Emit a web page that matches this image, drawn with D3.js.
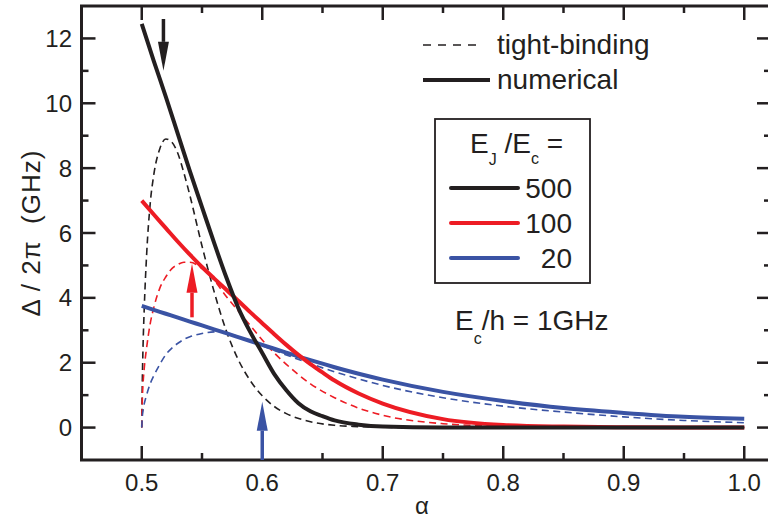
<!DOCTYPE html>
<html>
<head>
<meta charset="utf-8">
<script src="https://cdn.jsdelivr.net/npm/d3@7"></script>
<style>
  body { margin: 0; background: #fff; }
  svg { font-family: "Liberation Sans", Arial, sans-serif; }
</style>
</head>
<body>
<div id="chart"></div>
<script>
// numerical results, sampled on numAlpha
var numAlpha = [0.50,0.51,0.52,0.53,0.54,0.55,0.56,0.57,0.58,0.59,0.60,0.61,0.62,0.63,0.64,0.65,0.66,0.68,0.70,0.75,0.80,0.85,0.90,0.95,1.00];
var num500 = [12.45,11.3,10.2,9.05,7.9,6.8,5.7,4.65,3.7,2.95,2.3,1.65,1.15,0.75,0.5,0.35,0.22,0.09,0.03,0,0,0,0,0,0];
var num100 = [7.0,6.57,6.15,5.73,5.33,4.95,4.6,4.26,3.91,3.56,3.22,2.88,2.55,2.24,1.96,1.7,1.45,1.05,0.74,0.26,0.08,0.03,0.01,0,0];
var num20  = [3.75,3.63,3.51,3.39,3.27,3.15,3.03,2.91,2.79,2.67,2.55,2.43,2.31,2.19,2.08,1.97,1.86,1.66,1.48,1.1,0.82,0.6,0.45,0.33,0.27];

// tight-binding results, sampled on tbAlpha (denser near 0.5)
var tbAlpha = [0.5,0.5005,0.501,0.502,0.504,0.507,0.51,0.515,0.52,0.525,0.53,0.535,0.54,0.55,0.56,0.57,0.58,0.59,0.60,0.61,0.62,0.64,0.66,0.68,0.70,0.75,0.80,0.85,0.90,0.95,1.0];
var tb500 = [0,1.5,2.4,3.6,5.3,6.9,7.8,8.6,8.9,8.8,8.45,7.85,7.15,5.6,4.2,3.0,2.1,1.45,0.98,0.65,0.43,0.18,0.07,0.03,0.01,0,0,0,0,0,0];
var tb100 = [0,0.9,1.3,1.8,2.45,3.2,3.7,4.3,4.65,4.9,5.03,5.1,5.1,4.9,4.55,4.05,3.6,3.15,2.7,2.3,1.95,1.35,0.92,0.6,0.38,0.12,0.04,0.01,0,0,0];
var tb20  = [0,0.35,0.5,0.72,1.0,1.35,1.6,1.95,2.25,2.45,2.6,2.72,2.8,2.9,2.95,2.92,2.8,2.66,2.52,2.38,2.24,1.97,1.72,1.5,1.3,0.92,0.66,0.48,0.33,0.22,0.15];

var ratioLabels = ["500", "100", "20"];
var colors = ["#231f20", "#ed1c24", "#3a53a4"];

var xMajor = [0.5,0.6,0.7,0.8,0.9,1.0];
var xMinor = [0.55,0.65,0.75,0.85,0.95];
var yMajor = [0,2,4,6,8,10,12];
var yMinor = [1,3,5,7,9,11];

// arrows: alpha position, start value, tip value
var arrows = [
  {a: 0.518, from: 12.6, to: 11.0, c: 0},
  {a: 0.5417, from: 3.4, to: 5.05, c: 1},
  {a: 0.6, from: -1.0, to: 0.8, c: 2}
];

var W = 768, H = 521;
var svg = d3.select("#chart").append("svg")
    .attr("width", W)
    .attr("height", H);

var x = d3.scaleLinear().domain([0.45, 1.0222]).range([81.5, 771]);
var y = d3.scaleLinear().domain([-1, 13]).range([460, 6]);

var ink = "#231f20";

// frame
svg.append("rect")
    .attr("x", x(0.45)).attr("y", y(13))
    .attr("width", x(1.0222) - x(0.45))
    .attr("height", y(-1) - y(13))
    .attr("fill", "none").attr("stroke", ink).attr("stroke-width", 3);

// ticks (inward, on all four sides)
function xticks(vals, len) {
    vals.forEach(function(v) {
	svg.append("line").attr("x1", x(v)).attr("x2", x(v))
	    .attr("y1", y(-1)).attr("y2", y(-1) - len)
	    .attr("stroke", ink).attr("stroke-width", 2.5);
	svg.append("line").attr("x1", x(v)).attr("x2", x(v))
	    .attr("y1", y(13)).attr("y2", y(13) + len)
	    .attr("stroke", ink).attr("stroke-width", 2.5);
    });
}
function yticks(vals, len) {
    vals.forEach(function(v) {
	svg.append("line").attr("y1", y(v)).attr("y2", y(v))
	    .attr("x1", x(0.45)).attr("x2", x(0.45) + len)
	    .attr("stroke", ink).attr("stroke-width", 2.5);
	svg.append("line").attr("y1", y(v)).attr("y2", y(v))
	    .attr("x1", x(1.0222)).attr("x2", x(1.0222) - len)
	    .attr("stroke", ink).attr("stroke-width", 2.5);
    });
}
xticks(xMajor, 14); xticks(xMinor, 7);
yticks(yMajor, 14); yticks(yMinor, 7);

svg.selectAll("text.xl").data(xMajor).enter().append("text")
    .attr("class", "xl")
    .attr("x", function(d) { return x(d); })
    .attr("y", 491)
    .attr("text-anchor", "middle")
    .attr("font-size", 24).attr("fill", ink)
    .text(function(d) { return d3.format(".1f")(d); });

svg.selectAll("text.yl").data(yMajor).enter().append("text")
    .attr("class", "yl")
    .attr("x", 72)
    .attr("y", function(d) { return y(d) + 8.6; })
    .attr("text-anchor", "end")
    .attr("font-size", 24).attr("fill", ink)
    .text(function(d) { return d; });

// axis titles
svg.append("text")
    .attr("x", 422).attr("y", 514)
    .attr("text-anchor", "middle")
    .attr("font-size", 24).attr("fill", ink)
    .text("α");

svg.append("text")
    .attr("transform", "translate(40,233) rotate(-90)")
    .attr("text-anchor", "middle")
    .attr("font-size", 26).attr("fill", ink)
    .attr("letter-spacing", 1)
    .style("white-space", "pre")
    .text("Δ / 2π  (GHz)");

// curves
var line = d3.line()
    .x(function(d) { return x(d[0]); })
    .y(function(d) { return y(d[1]); })
    .curve(d3.curveMonotoneX);

var tbSeries = [tb500, tb100, tb20];
var numSeries = [num500, num100, num20];

tbSeries.forEach(function(s, i) {
    svg.append("path")
	.attr("d", line(d3.zip(tbAlpha, s)))
	.attr("fill", "none")
	.attr("stroke", colors[i])
	.attr("stroke-width", 1.6)
	.attr("stroke-dasharray", "7,4.5");
});

// draw blue first so black stays on top like the original
[2, 1, 0].forEach(function(i) {
    svg.append("path")
	.attr("d", line(d3.zip(numAlpha, numSeries[i])))
	.attr("fill", "none")
	.attr("stroke", colors[i])
	.attr("stroke-width", 4);
});

// arrows
arrows.forEach(function(ar) {
    var ax = x(ar.a), y0 = y(ar.from), y1 = y(ar.to);
    var dir = y1 > y0 ? 1 : -1;
    var head = 29;
    svg.append("line")
	.attr("x1", ax).attr("x2", ax)
	.attr("y1", y0).attr("y2", y1 - dir * head)
	.attr("stroke", colors[ar.c]).attr("stroke-width", 3.5);
    svg.append("path")
	.attr("d", "M" + (ax - 5.5) + "," + (y1 - dir * head) +
	      "L" + (ax + 5.5) + "," + (y1 - dir * head) +
	      "L" + ax + "," + y1 + "Z")
	.attr("fill", colors[ar.c]);
});

// legend: line styles
svg.append("line")
    .attr("x1", 423).attr("x2", 482).attr("y1", 45).attr("y2", 45)
    .attr("stroke", ink).attr("stroke-width", 1.6)
    .attr("stroke-dasharray", "8,7");
svg.append("text").attr("x", 497).attr("y", 54)
    .attr("font-size", 28).attr("fill", ink).text("tight-binding");
svg.append("line")
    .attr("x1", 423).attr("x2", 490).attr("y1", 80).attr("y2", 80)
    .attr("stroke", ink).attr("stroke-width", 4);
svg.append("text").attr("x", 497).attr("y", 89)
    .attr("font-size", 28).attr("fill", ink).text("numerical");

// legend: E_J/E_c box
svg.append("rect")
    .attr("x", 435).attr("y", 119).attr("width", 155).attr("height", 164)
    .attr("fill", "none").attr("stroke", ink).attr("stroke-width", 1.8);

var head = svg.append("text").attr("x", 470).attr("y", 153)
    .attr("font-size", 28).attr("fill", ink).style("white-space", "pre");
head.append("tspan").text("E");
head.append("tspan").attr("font-size", 16).attr("dy", 12).text("J");
head.append("tspan").attr("dy", -12).text(" /E");
head.append("tspan").attr("font-size", 16).attr("dy", 11).text("c");
head.append("tspan").attr("dy", -11).text(" =");

ratioLabels.forEach(function(lab, i) {
    var ly = 188 + i * 35;
    svg.append("line")
	.attr("x1", 451).attr("x2", 518).attr("y1", ly).attr("y2", ly)
	.attr("stroke", colors[i]).attr("stroke-width", 4)
	.attr("stroke-linecap", "round");
    svg.append("text").attr("x", 572).attr("y", ly + 10)
	.attr("text-anchor", "end")
	.attr("font-size", 28).attr("fill", ink).text(lab);
});

// E_c/h annotation
var ec = svg.append("text").attr("x", 455).attr("y", 330)
    .attr("font-size", 28).attr("fill", ink);
ec.append("tspan").text("E");
ec.append("tspan").attr("font-size", 16).attr("dy", 14).text("c");
ec.append("tspan").attr("dy", -14).text("/h = 1GHz");
</script>
</body>
</html>
